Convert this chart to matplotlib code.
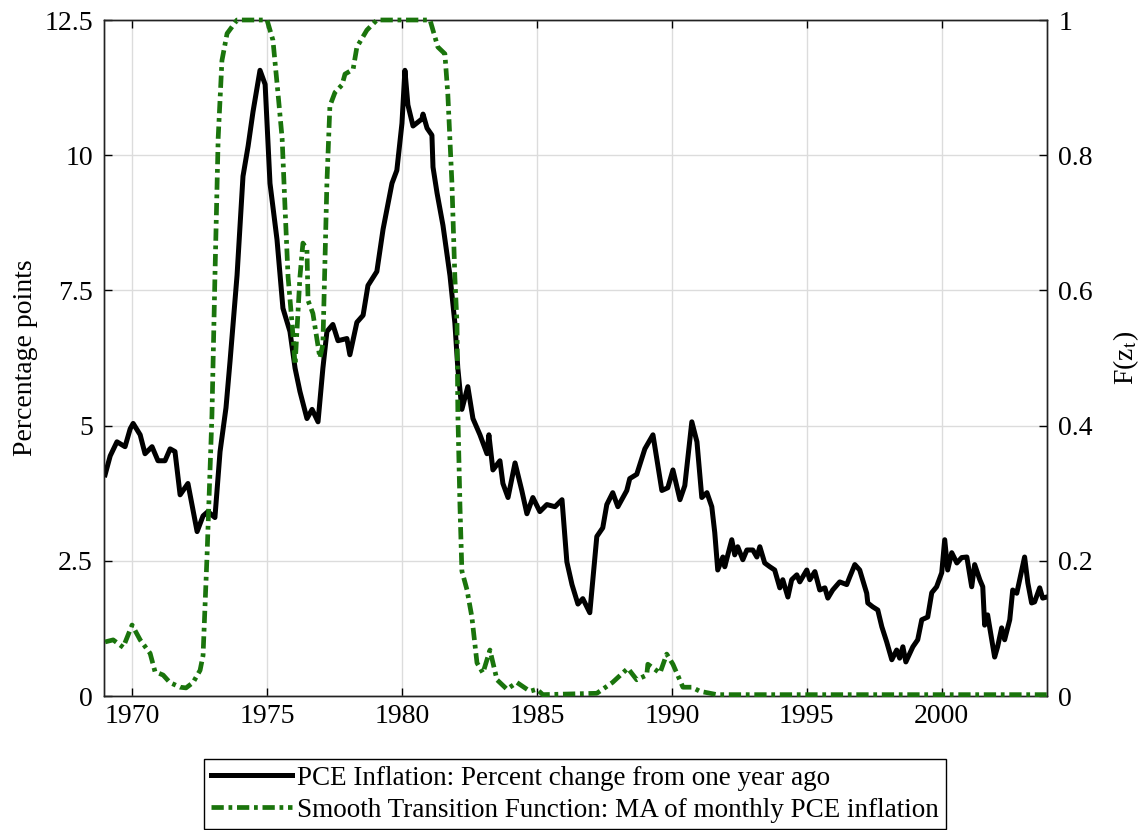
import numpy as np
import matplotlib
matplotlib.use('Agg')
import matplotlib.pyplot as plt

plt.rcParams['font.family'] = ['Liberation Serif', 'DejaVu Serif']
plt.rcParams['mathtext.fontset'] = 'stix'

# PCE inflation, percent change from one year ago
pce_year = [1969.0, 1969.19, 1969.44, 1969.74, 1969.93, 1970.04, 1970.3, 1970.48, 1970.74, 1970.96,
            1971.22, 1971.41, 1971.59, 1971.78, 1972.07, 1972.41, 1972.63, 1972.81, 1973.07, 1973.26,
            1973.48, 1973.63, 1973.89, 1974.11, 1974.3, 1974.48, 1974.74, 1974.93, 1975.11, 1975.37,
            1975.59, 1975.85, 1976.04, 1976.22, 1976.48, 1976.67, 1976.89, 1977.07, 1977.22, 1977.44,
            1977.63, 1977.96, 1978.07, 1978.33, 1978.56, 1978.74, 1979.07, 1979.3, 1979.63, 1979.81,
            1980.0, 1980.11, 1980.22, 1980.41, 1980.74, 1980.78, 1980.93, 1981.11, 1981.15, 1981.3,
            1981.52, 1981.78, 1981.96, 1982.07, 1982.22, 1982.44, 1982.63, 1982.89, 1983.15, 1983.22,
            1983.37, 1983.63, 1983.74, 1983.93, 1984.19, 1984.44, 1984.63, 1984.85, 1985.11, 1985.37,
            1985.67, 1985.93, 1986.11, 1986.3, 1986.52, 1986.7, 1986.96, 1987.22, 1987.44, 1987.59,
            1987.81, 1988.0, 1988.33, 1988.44, 1988.7, 1989.0, 1989.3, 1989.63, 1989.85, 1990.04,
            1990.3, 1990.48, 1990.74, 1990.93, 1991.11, 1991.3, 1991.48, 1991.59, 1991.7, 1991.89,
            1991.96, 1992.22, 1992.33, 1992.44, 1992.63, 1992.78, 1993.0, 1993.15, 1993.26, 1993.44,
            1993.63, 1993.81, 1994.0, 1994.11, 1994.3, 1994.44, 1994.63, 1994.74, 1995.0, 1995.11,
            1995.3, 1995.48, 1995.67, 1995.78, 1995.96, 1996.22, 1996.48, 1996.59, 1996.78, 1996.96,
            1997.22, 1997.26, 1997.44, 1997.63, 1997.78, 1997.96, 1998.15, 1998.33, 1998.44, 1998.56,
            1998.67, 1998.93, 1999.11, 1999.26, 1999.48, 1999.63, 1999.81, 2000.0, 2000.11, 2000.22,
            2000.37, 2000.56, 2000.74, 2000.93, 2001.11, 2001.22, 2001.41, 2001.52, 2001.59, 2001.7,
            2001.96, 2002.07, 2002.22, 2002.33, 2002.52, 2002.63, 2002.78, 2003.07, 2003.19, 2003.33,
            2003.44, 2003.63, 2003.74, 2003.89]
pce_val = [4.09, 4.44, 4.7, 4.61, 4.94, 5.04, 4.83, 4.48, 4.61, 4.35,
           4.35, 4.57, 4.52, 3.72, 3.93, 3.04, 3.33, 3.41, 3.3, 4.52,
           5.33, 6.19, 7.78, 9.61, 10.17, 10.8, 11.57, 11.31, 9.48, 8.44,
           7.17, 6.74, 6.06, 5.63, 5.13, 5.3, 5.07, 6.06, 6.74, 6.87,
           6.57, 6.61, 6.31, 6.91, 7.04, 7.59, 7.85, 8.63, 9.48, 9.72,
           10.59, 11.57, 10.93, 10.54, 10.67, 10.76, 10.5, 10.37, 9.78, 9.3,
           8.7, 7.77, 6.9, 6.06, 5.3, 5.72, 5.13, 4.83, 4.48, 4.83,
           4.18, 4.35, 3.93, 3.67, 4.31, 3.8, 3.37, 3.67, 3.41, 3.54,
           3.5, 3.63, 2.48, 2.06, 1.7, 1.8, 1.54, 2.95, 3.11, 3.54,
           3.76, 3.5, 3.8, 4.02, 4.1, 4.57, 4.83, 3.8, 3.85, 4.18,
           3.63, 3.89, 5.07, 4.7, 3.67, 3.76, 3.5, 3.02, 2.33, 2.57,
           2.39, 2.89, 2.61, 2.76, 2.52, 2.7, 2.7, 2.57, 2.76, 2.46,
           2.39, 2.33, 2.0, 2.15, 1.83, 2.15, 2.24, 2.11, 2.33, 2.15,
           2.3, 1.96, 2.0, 1.81, 1.96, 2.11, 2.06, 2.2, 2.43, 2.33,
           1.9, 1.72, 1.65, 1.59, 1.28, 1.0, 0.67, 0.85, 0.7, 0.91,
           0.63, 0.91, 1.04, 1.41, 1.46, 1.91, 2.02, 2.28, 2.89, 2.33,
           2.65, 2.46, 2.56, 2.57, 2.02, 2.43, 2.15, 2.02, 1.31, 1.5,
           0.72, 0.91, 1.26, 1.04, 1.41, 1.96, 1.9, 2.57, 2.09, 1.72,
           1.74, 2.0, 1.81, 1.83]

# Smooth transition function F(z_t), right axis
stf_year = [1969.0, 1969.3, 1969.67, 1970.0, 1970.3, 1970.67, 1970.85, 1971.15, 1971.4, 1971.78,
            1972.0, 1972.26, 1972.52, 1972.63, 1972.78, 1972.96, 1973.07, 1973.19, 1973.33, 1973.52,
            1973.89, 1975.0, 1975.22, 1975.41, 1975.56, 1975.67, 1975.78, 1975.93, 1976.04, 1976.22,
            1976.33, 1976.48, 1976.52, 1976.7, 1976.96, 1977.07, 1977.22, 1977.33, 1977.52, 1977.78,
            1977.89, 1978.19, 1978.33, 1978.7, 1979.07, 1981.04, 1981.33, 1981.59, 1981.7, 1981.85,
            1981.96, 1982.04, 1982.07, 1982.15, 1982.22, 1982.41, 1982.59, 1982.78, 1983.0, 1983.26,
            1983.52, 1983.89, 1984.26, 1984.74, 1985.0, 1985.22, 1987.22, 1987.8, 1988.37, 1988.7,
            1989.07, 1989.11, 1989.56, 1989.81, 1990.04, 1990.41, 1990.74, 1991.04, 1991.67, 2003.89]
stf_val = [0.08, 0.083, 0.072, 0.105, 0.083, 0.063, 0.036, 0.031, 0.02, 0.013,
           0.012, 0.02, 0.038, 0.06, 0.21, 0.416, 0.62, 0.825, 0.94, 0.98,
           1.0, 1.0, 0.97, 0.89, 0.825, 0.72, 0.62, 0.55, 0.49, 0.62,
           0.67, 0.66, 0.585, 0.566, 0.5, 0.52, 0.76, 0.873, 0.893, 0.904,
           0.92, 0.927, 0.96, 0.985, 1.0, 1.0, 0.96, 0.95, 0.89, 0.76,
           0.62, 0.55, 0.42, 0.28, 0.185, 0.157, 0.117, 0.049, 0.034, 0.068,
           0.024, 0.01, 0.02, 0.007, 0.01, 0.002, 0.004, 0.02, 0.041, 0.024,
           0.031, 0.047, 0.034, 0.062, 0.047, 0.013, 0.013, 0.007, 0.002, 0.002]

x_ticks = [1970, 1975, 1980, 1985, 1990, 1995, 2000]
left_ticks = [0, 2.5, 5, 7.5, 10, 12.5]
left_labels = ['0', '2.5', '5', '7.5', '10', '12.5']
right_ticks = [0, 0.2, 0.4, 0.6, 0.8, 1.0]
right_labels = ['0', '0.2', '0.4', '0.6', '0.8', '1']

FS = 20
green = '#1a740c'

fig = plt.figure(figsize=(11.45, 8.3), dpi=100)
ax = fig.add_axes([104/1145, 1 - 696/830, (1047 - 104)/1145, (696 - 20)/830])
ax2 = ax.twinx()

l1, = ax.plot(pce_year, pce_val, color='black', linewidth=3.6, zorder=3)
l2, = ax2.plot(stf_year, stf_val, color=green, linewidth=3.4,
               linestyle=(0, (2.6, 1.0, 0.8, 1.0)), zorder=4, clip_on=False)

ax.set_xlim(1968.96, 2003.9)
ax.set_ylim(0, 12.5)
ax2.set_ylim(0, 1)

ax.set_xticks(x_ticks)
ax.set_yticks(left_ticks)
ax.set_yticklabels(left_labels)
ax2.set_yticks(right_ticks)
ax2.set_yticklabels(right_labels)

ax.grid(True, color='#dcdcdc', linewidth=1.0, zorder=0)
ax.set_axisbelow(True)

ax.tick_params(axis='x', direction='in', length=6, width=1, labelsize=FS, pad=6, top=True)
ax.tick_params(axis='y', direction='in', length=6, width=1, labelsize=FS, pad=8, right=False)
ax2.tick_params(axis='y', direction='in', length=6, width=1, labelsize=FS, pad=8)

for a in (ax, ax2):
    for s in a.spines.values():
        s.set_linewidth(1.0)
        s.set_color('#222222')

ax.set_ylabel('Percentage points', fontsize=FS, labelpad=4.5)
ax2.set_ylabel(r'F(z$_{\mathrm{t}}$)', fontsize=FS, labelpad=13)

fig.legend([l1, l2],
           ['PCE Inflation: Percent change from one year ago',
            'Smooth Transition Function: MA of monthly PCE inflation'],
           loc='upper center', bbox_to_anchor=(0.502, 1 - 759/830),
           fontsize=FS - 0.5, frameon=True, fancybox=False, edgecolor='black',
           framealpha=1, handlelength=3.0, handletextpad=0.2, labelspacing=0.25,
           borderpad=0.25, borderaxespad=0)

fig.savefig('out.png', dpi=100)
